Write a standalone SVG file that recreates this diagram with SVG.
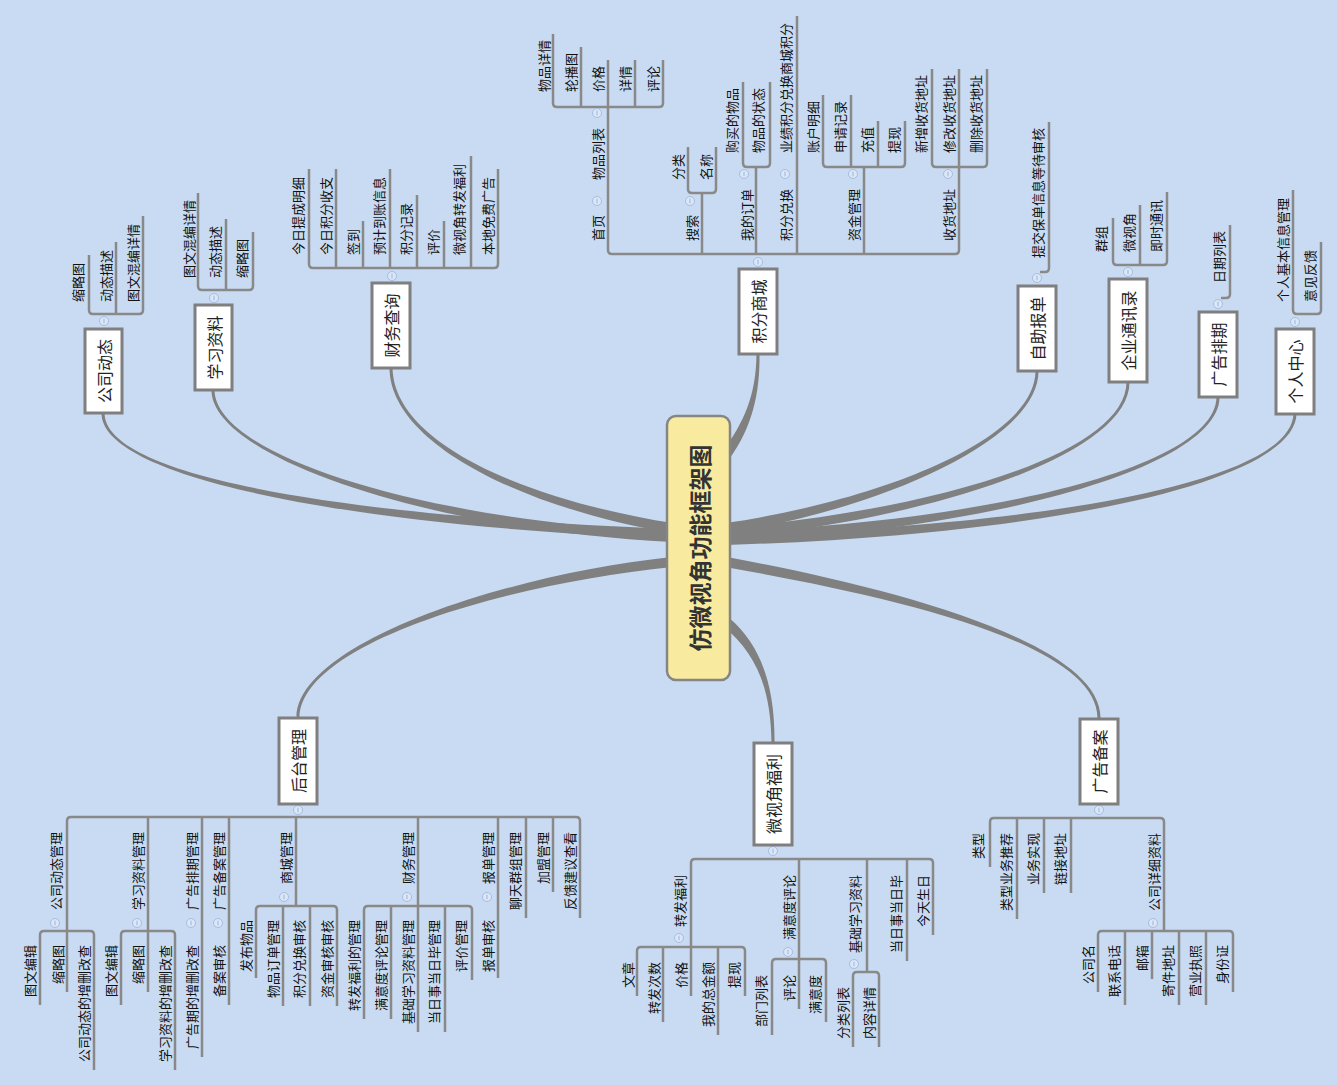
<svg xmlns="http://www.w3.org/2000/svg" xmlns:xlink="http://www.w3.org/1999/xlink" width="1337" height="1085" viewBox="0 0 1337 1085">
<style>
text{font-family:"Noto Sans CJK SC","Noto Sans",sans-serif;dominant-baseline:central}
.t text{font-size:13px;fill:#111}
.b text{font-size:13px;fill:#111;text-anchor:end}
.n rect{fill:#fff;stroke:#7f7f7f;stroke-width:3}
.n text{font-size:16px;fill:#222;text-anchor:middle}
.ln{fill:none;stroke:#898989;stroke-width:2.5}
.cv{fill:#808080}
</style>
<defs>
<g id="tg"><circle r="4.5" fill="#dbe6f6" stroke="#a5bde2" stroke-width="1"/><path d="M0,-2.3V2.3" stroke="#9fb5d8" stroke-width="1"/></g>
</defs>
<rect width="1337" height="1085" fill="#c8dbf2"/>

<g id="connectors">
<g id="main-curves" class="cv">
<path d="M101.5,413 C101,475 329.8,524.5 671.8,539 L672.2,529 C330.2,515.5 105,475 104.5,413 Z"/>
<path d="M211.5,390 C211,455 419.8,529.5 671.8,542 L672.2,532 C420.2,520.5 215,455 214.5,390 Z"/>
<path d="M389.5,367 C389,445 529.3,509.4 671.2,532.9 L672.8,523.1 C530.7,500.6 393,445 392.5,367 Z"/>
<path d="M756.5,354 C756,395 744.4,422.3 722,452 L730,458 C751.6,427.7 760,395 759.5,354 Z"/>
<path d="M1035.5,371 C1035,440 879.3,500.5 725.3,523.1 L726.7,532.9 C880.7,509.5 1039,440 1038.5,371 Z"/>
<path d="M1126.5,382 C1126,455 929.6,510.5 725.6,528 L726.4,538 C930.4,519.5 1130,455 1129.5,382 Z"/>
<path d="M1216.5,397 C1216,465 999.8,520.5 725.8,532 L726.2,542 C1000.2,529.5 1220,465 1219.5,397 Z"/>
<path d="M1293.5,413 C1293,480 1059.9,525.5 725.9,535 L726.1,545 C1060.1,534.5 1297,480 1296.5,413 Z"/>
<path d="M299.5,718 C300,645 500.5,584.5 672.5,567 L671.5,557 C499.5,575.5 296,645 296.5,718 Z"/>
<path d="M774.5,743 C775,690 762.9,646.5 729.2,618.1 L722.8,625.9 C757.1,653.5 771,690 771.5,743 Z"/>
<path d="M1100.5,718 C1101,640 880.8,585.6 726.9,557.1 L725.1,566.9 C879.2,594.4 1097,640 1097.5,718 Z"/>
</g>
<g id="brackets" class="ln">
<path d="M89,255 V310 Q89,314 93,314 H139 Q143,314 143,310 V216 M116,314 V242"/>
<path d="M198,193 V286 Q198,290 202,290 H249 Q253,290 253,286 V232 M226,290 V219"/>
<path d="M309,169 V264 Q309,268 313,268 H494 Q498,268 498,264 V169 M336,268 V169 M363,268 V221 M390,268 V169 M417,268 V195 M444,268 V221 M471,268 V156"/>
<path d="M608,60 V250 Q608,254 612,254 H955 Q959,254 959,250 V69 M702,254 V193 M756,254 V167 M797,254 V16 M864,254 V167"/>
<path d="M553,34 V103 Q553,107 557,107 H659 Q663,107 663,103 V60 M581,107 V47 M635,107 V60"/>
<path d="M688,147 V189 Q688,193 692,193 H712 Q716,193 716,189 V147"/>
<path d="M743,82 V163 Q743,167 747,167 H766 Q770,167 770,163 V82"/>
<path d="M823,95 V163 Q823,167 827,167 H901 Q905,167 905,163 V121 M851,167 V95 M878,167 V121"/>
<path d="M932,69 V163 Q932,167 936,167 H983 Q987,167 987,163 V69"/>
<path d="M1040,272 H1045 Q1049,272 1049,268 V122"/>
<path d="M1113,218 V261 Q1113,265 1117,265 H1163 Q1167,265 1167,261 V192 M1140,265 V205"/>
<path d="M1221,298 H1226 Q1230,298 1230,294 V225"/>
<path d="M1293,190 V310 Q1293,314 1297,314 H1317 Q1321,314 1321,310 V242"/>
<path d="M67,992 V821 Q67,817 71,817 H576 Q580,817 580,821 V918 M148,817 V992 M202,817 V1057 M229,817 V1005 M296,817 V906 M418,817 V1032 M498,817 V978 M526,817 V918 M553,817 V892"/>
<path d="M40,1005 V935 Q40,931 44,931 H90 Q94,931 94,935 V1070"/>
<path d="M121,1005 V935 Q121,931 125,931 H171 Q175,931 175,935 V1070"/>
<path d="M256,978 V910 Q256,906 260,906 H333 Q337,906 337,910 V1006 M283,906 V1006 M310,906 V1006"/>
<path d="M364,1019 V910 Q364,906 368,906 H468 Q472,906 472,910 V980 M391,906 V1019 M445,906 V1032"/>
<path d="M691,996 V863 Q691,859 695,859 H929 Q933,859 933,863 V935 M799,859 V1009 M867,859 V972 M907,859 V961"/>
<path d="M637,996 V951 Q637,947 641,947 H741 Q745,947 745,951 V996 M663,947 V1022 M718,947 V1035"/>
<path d="M772,1035 V963 Q772,959 776,959 H822 Q826,959 826,963 V1022"/>
<path d="M853,1047 V976 Q853,972 857,972 H875 Q879,972 879,976 V1047"/>
<path d="M990,867 V822 Q990,818 994,818 H1160 Q1164,818 1164,822 V931 M1017,818 V919 M1044,818 V893 M1071,818 V893"/>
<path d="M1098,992 V935 Q1098,931 1102,931 H1229 Q1233,931 1233,935 V992 M1125,931 V1005 M1152,931 V979 M1179,931 V1005 M1206,931 V1005"/>
</g>
<g id="toggles">
<use href="#tg" x="104" y="321"/><use href="#tg" x="214" y="298"/><use href="#tg" x="392" y="276"/><use href="#tg" x="758" y="262"/>
<use href="#tg" x="1037" y="278"/><use href="#tg" x="1128" y="272"/><use href="#tg" x="1218" y="304"/><use href="#tg" x="1295" y="322"/>
<use href="#tg" x="298" y="810"/><use href="#tg" x="773" y="851"/><use href="#tg" x="1099" y="810"/>
<use href="#tg" x="597" y="201"/><use href="#tg" x="597" y="113"/><use href="#tg" x="690" y="201"/><use href="#tg" x="744" y="174"/>
<use href="#tg" x="785" y="174"/><use href="#tg" x="853" y="174"/><use href="#tg" x="948" y="174"/>
<use href="#tg" x="55" y="923"/><use href="#tg" x="137" y="923"/><use href="#tg" x="191" y="923"/><use href="#tg" x="218" y="923"/>
<use href="#tg" x="284" y="897"/><use href="#tg" x="407" y="897"/><use href="#tg" x="487" y="897"/>
<use href="#tg" x="679" y="938"/><use href="#tg" x="788" y="952"/><use href="#tg" x="854" y="964"/><use href="#tg" x="1153" y="923"/>
</g>
</g>

<g id="center">
<rect x="667" y="416" width="63" height="264" rx="9" fill="#f8eb9f" stroke="#858585" stroke-width="2.5"/>
<text transform="translate(698.5 548) rotate(-90)" text-anchor="middle" font-size="23" font-weight="bold" fill="#333">仿微视角功能框架图</text>
</g>

<g id="n-gsdt" class="n"><rect x="85" y="329" width="37" height="84"/><text transform="translate(103.5 371) rotate(-90)">公司动态</text></g>
<g id="n-xxzl" class="n"><rect x="195" y="305" width="37" height="85"/><text transform="translate(213.5 347.5) rotate(-90)">学习资料</text></g>
<g id="n-cwcx" class="n"><rect x="372" y="283" width="38" height="85"/><text transform="translate(391 325.5) rotate(-90)">财务查询</text></g>
<g id="n-jfsc" class="n"><rect x="739" y="269" width="38" height="85"/><text transform="translate(758 311.5) rotate(-90)">积分商城</text></g>
<g id="n-zzbd" class="n"><rect x="1018" y="286" width="38" height="85"/><text transform="translate(1037 328.5) rotate(-90)">自助报单</text></g>
<g id="n-qytxl" class="n"><rect x="1109" y="279" width="38" height="103"/><text transform="translate(1128 330.5) rotate(-90)">企业通讯录</text></g>
<g id="n-ggpq" class="n"><rect x="1199" y="312" width="38" height="85"/><text transform="translate(1218 354.5) rotate(-90)">广告排期</text></g>
<g id="n-grzx" class="n"><rect x="1276" y="329" width="38" height="85"/><text transform="translate(1295 371.5) rotate(-90)">个人中心</text></g>
<g id="n-htgl" class="n"><rect x="279" y="718" width="38" height="86"/><text transform="translate(298 761) rotate(-90)">后台管理</text></g>
<g id="n-wsjfl" class="n"><rect x="754" y="743" width="38" height="102"/><text transform="translate(773 794) rotate(-90)">微视角福利</text></g>
<g id="n-ggba" class="n"><rect x="1080" y="719" width="38" height="85"/><text transform="translate(1099 761.5) rotate(-90)">广告备案</text></g>

<g id="sub-top" class="t">
<g id="t1"><text transform="translate(77 302) rotate(-90)">缩略图</text></g>
<g id="t2"><text transform="translate(105 302) rotate(-90)">动态描述</text></g>
<g id="t3"><text transform="translate(132 302) rotate(-90)">图文混编详情</text></g>
<g id="t4"><text transform="translate(188 278) rotate(-90)">图文混编详情</text></g>
<g id="t5"><text transform="translate(214 278) rotate(-90)">动态描述</text></g>
<g id="t6"><text transform="translate(241 278) rotate(-90)">缩略图</text></g>
<g id="t7"><text transform="translate(297 255) rotate(-90)">今日提成明细</text></g>
<g id="t8"><text transform="translate(325 255) rotate(-90)">今日积分收支</text></g>
<g id="t9"><text transform="translate(352 255) rotate(-90)">签到</text></g>
<g id="t10"><text transform="translate(378 255) rotate(-90)">预计到账信息</text></g>
<g id="t11"><text transform="translate(405 255) rotate(-90)">积分记录</text></g>
<g id="t12"><text transform="translate(432 255) rotate(-90)">评价</text></g>
<g id="t13"><text transform="translate(458 255) rotate(-90)">微视角转发福利</text></g>
<g id="t14"><text transform="translate(487 255) rotate(-90)">本地免费广告</text></g>
<g id="t15"><text transform="translate(597 241) rotate(-90)">首页</text></g>
<g id="t16"><text transform="translate(691 241) rotate(-90)">搜索</text></g>
<g id="t17"><text transform="translate(746 241) rotate(-90)">我的订单</text></g>
<g id="t18"><text transform="translate(785 241) rotate(-90)">积分兑换</text></g>
<g id="t19"><text transform="translate(853 241) rotate(-90)">资金管理</text></g>
<g id="t20"><text transform="translate(948 241) rotate(-90)">收货地址</text></g>
<g id="t21"><text transform="translate(597 180) rotate(-90)">物品列表</text></g>
<g id="t22"><text transform="translate(543 92) rotate(-90)">物品详情</text></g>
<g id="t23"><text transform="translate(570 92) rotate(-90)">轮播图</text></g>
<g id="t24"><text transform="translate(597 92) rotate(-90)">价格</text></g>
<g id="t25"><text transform="translate(624 92) rotate(-90)">详情</text></g>
<g id="t26"><text transform="translate(652 92) rotate(-90)">评论</text></g>
<g id="t27"><text transform="translate(677 180) rotate(-90)">分类</text></g>
<g id="t28"><text transform="translate(705 180) rotate(-90)">名称</text></g>
<g id="t29"><text transform="translate(731 153) rotate(-90)">购买的物品</text></g>
<g id="t30"><text transform="translate(757 153) rotate(-90)">物品的状态</text></g>
<g id="t31"><text transform="translate(785 153) rotate(-90)">业绩积分兑换商城积分</text></g>
<g id="t32"><text transform="translate(812 153) rotate(-90)">账户明细</text></g>
<g id="t33"><text transform="translate(839 153) rotate(-90)">申请记录</text></g>
<g id="t34"><text transform="translate(866 153) rotate(-90)">充值</text></g>
<g id="t35"><text transform="translate(893 153) rotate(-90)">提现</text></g>
<g id="t36"><text transform="translate(920 153) rotate(-90)">新增收货地址</text></g>
<g id="t37"><text transform="translate(948 153) rotate(-90)">修改收货地址</text></g>
<g id="t38"><text transform="translate(975 153) rotate(-90)">删除收货地址</text></g>
<g id="t39"><text transform="translate(1037 258) rotate(-90)">提交保单信息等待审核</text></g>
<g id="t40"><text transform="translate(1100 252) rotate(-90)">群组</text></g>
<g id="t41"><text transform="translate(1128 252) rotate(-90)">微视角</text></g>
<g id="t42"><text transform="translate(1155 252) rotate(-90)">即时通讯</text></g>
<g id="t43"><text transform="translate(1218 283) rotate(-90)">日期列表</text></g>
<g id="t44"><text transform="translate(1282 302) rotate(-90)">个人基本信息管理</text></g>
<g id="t45"><text transform="translate(1309 302) rotate(-90)">意见反馈</text></g>
</g>

<g id="sub-bottom" class="b">
<g id="b1"><text transform="translate(55 832) rotate(-90)">公司动态管理</text></g>
<g id="b2"><text transform="translate(137 832) rotate(-90)">学习资料管理</text></g>
<g id="b3"><text transform="translate(191 832) rotate(-90)">广告排期管理</text></g>
<g id="b4"><text transform="translate(218 832) rotate(-90)">广告备案管理</text></g>
<g id="b5"><text transform="translate(285 832) rotate(-90)">商城管理</text></g>
<g id="b6"><text transform="translate(407 832) rotate(-90)">财务管理</text></g>
<g id="b7"><text transform="translate(487 832) rotate(-90)">报单管理</text></g>
<g id="b8"><text transform="translate(514 832) rotate(-90)">聊天群组管理</text></g>
<g id="b9"><text transform="translate(542 832) rotate(-90)">加盟管理</text></g>
<g id="b10"><text transform="translate(569 832) rotate(-90)">反馈建议查看</text></g>
<g id="b11"><text transform="translate(29 945) rotate(-90)">图文编辑</text></g>
<g id="b12"><text transform="translate(57 945) rotate(-90)">缩略图</text></g>
<g id="b13"><text transform="translate(83 945) rotate(-90)">公司动态的增删改查</text></g>
<g id="b14"><text transform="translate(110 945) rotate(-90)">图文编辑</text></g>
<g id="b15"><text transform="translate(137 945) rotate(-90)">缩略图</text></g>
<g id="b16"><text transform="translate(164 945) rotate(-90)">学习资料的增删改查</text></g>
<g id="b17"><text transform="translate(191 945) rotate(-90)">广告期的增删改查</text></g>
<g id="b18"><text transform="translate(218 945) rotate(-90)">备案审核</text></g>
<g id="b19"><text transform="translate(245 920) rotate(-90)">发布物品</text></g>
<g id="b20"><text transform="translate(272 920) rotate(-90)">物品订单管理</text></g>
<g id="b21"><text transform="translate(298 920) rotate(-90)">积分兑换审核</text></g>
<g id="b22"><text transform="translate(326 920) rotate(-90)">资金审核审核</text></g>
<g id="b23"><text transform="translate(353 920) rotate(-90)">转发福利的管理</text></g>
<g id="b24"><text transform="translate(380 920) rotate(-90)">满意度评论管理</text></g>
<g id="b25"><text transform="translate(407 920) rotate(-90)">基础学习资料管理</text></g>
<g id="b26"><text transform="translate(433 920) rotate(-90)">当日事当日毕管理</text></g>
<g id="b27"><text transform="translate(460 920) rotate(-90)">评价管理</text></g>
<g id="b28"><text transform="translate(487 920) rotate(-90)">报单审核</text></g>
<g id="b29"><text transform="translate(679 875) rotate(-90)">转发福利</text></g>
<g id="b30"><text transform="translate(788 875) rotate(-90)">满意度评论</text></g>
<g id="b31"><text transform="translate(854 875) rotate(-90)">基础学习资料</text></g>
<g id="b32"><text transform="translate(895 875) rotate(-90)">当日事当日毕</text></g>
<g id="b33"><text transform="translate(922 875) rotate(-90)">今天生日</text></g>
<g id="b34"><text transform="translate(627 962) rotate(-90)">文章</text></g>
<g id="b35"><text transform="translate(653 962) rotate(-90)">转发次数</text></g>
<g id="b36"><text transform="translate(680 962) rotate(-90)">价格</text></g>
<g id="b37"><text transform="translate(707 962) rotate(-90)">我的总金额</text></g>
<g id="b38"><text transform="translate(733 962) rotate(-90)">提现</text></g>
<g id="b39"><text transform="translate(760 975) rotate(-90)">部门列表</text></g>
<g id="b40"><text transform="translate(788 975) rotate(-90)">评论</text></g>
<g id="b41"><text transform="translate(814 975) rotate(-90)">满意度</text></g>
<g id="b42"><text transform="translate(842 987) rotate(-90)">分类列表</text></g>
<g id="b43"><text transform="translate(868 987) rotate(-90)">内容详情</text></g>
<g id="b44"><text transform="translate(977 833) rotate(-90)">类型</text></g>
<g id="b45"><text transform="translate(1005 833) rotate(-90)">类型业务推荐</text></g>
<g id="b46"><text transform="translate(1032 833) rotate(-90)">业务实现</text></g>
<g id="b47"><text transform="translate(1059 833) rotate(-90)">链接地址</text></g>
<g id="b48"><text transform="translate(1153 833) rotate(-90)">公司详细资料</text></g>
<g id="b49"><text transform="translate(1087 945) rotate(-90)">公司名</text></g>
<g id="b50"><text transform="translate(1113 945) rotate(-90)">联系电话</text></g>
<g id="b51"><text transform="translate(1141 945) rotate(-90)">邮箱</text></g>
<g id="b52"><text transform="translate(1167 945) rotate(-90)">寄件地址</text></g>
<g id="b53"><text transform="translate(1194 945) rotate(-90)">营业执照</text></g>
<g id="b54"><text transform="translate(1221 945) rotate(-90)">身份证</text></g>
</g>
</svg>
